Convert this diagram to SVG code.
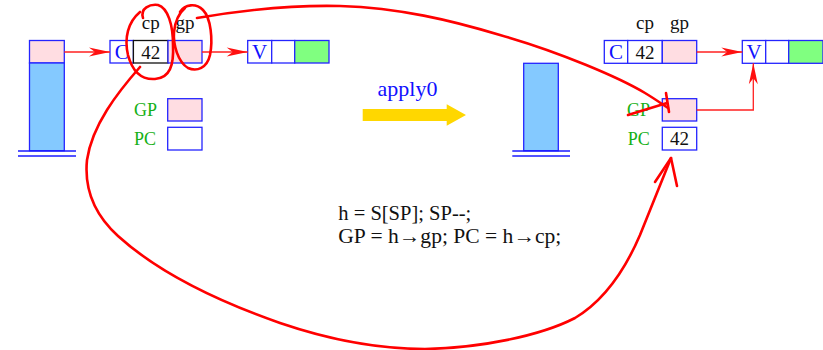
<svg xmlns="http://www.w3.org/2000/svg" width="823" height="350" viewBox="0 0 823 350">
<style>
.box{stroke:#2424ff;stroke-width:1.3}
.pink{fill:#ffdde2}
.white{fill:#ffffff}
.green{fill:#80ff80}
.sky{fill:#84c9ff}
.base{stroke:#1a1aff;stroke-width:1.3}
.lbl{font-family:"Liberation Serif","DejaVu Serif",serif;font-size:19px;fill:#111;text-anchor:middle}
.blu{font-family:"Liberation Serif","DejaVu Serif",serif;font-size:21px;fill:#1010ff;text-anchor:middle}
.grn{font-family:"Liberation Serif","DejaVu Serif",serif;font-size:18px;fill:#16b016}
.code{font-family:"Liberation Serif","DejaVu Serif",serif;font-size:20px;fill:#111}
.conn{stroke:#ff2020;stroke-width:1.3;fill:none}
.hand{stroke:#ff0000;stroke-width:2.6;fill:none;stroke-linecap:round;stroke-linejoin:round}
</style>
<defs>
<marker id="ah" markerUnits="userSpaceOnUse" markerWidth="24" markerHeight="12" viewBox="-22 -6 24 12" refX="0" refY="0" orient="auto">
<path d="M0,0 L-21,-4.5 L-15,0 L-21,4.5 Z" fill="#ff1010"/>
</marker>
</defs>

<g id="left-stack">
<rect class="box pink" x="29.5" y="40.5" width="34.8" height="22.5"/>
<rect class="box sky" x="29.5" y="63" width="34.8" height="87.7"/>
<line class="base" x1="18" y1="151" x2="76" y2="151"/>
<line class="base" x1="18" y1="156" x2="76" y2="156"/>
</g>

<g id="left-closure">
<text class="lbl" x="150.7" y="29">cp</text>
<text class="lbl" x="185" y="29">gp</text>
<rect class="box white" x="110" y="40.5" width="23.4" height="22.5"/>
<rect x="133.4" y="40.5" width="34.6" height="22.5" fill="#fff" stroke="#111" stroke-width="1.3"/>
<rect class="box pink" x="168" y="40.5" width="34" height="22.5"/>
<text class="blu" x="121.7" y="59">C</text>
<text class="lbl" x="150.7" y="59">42</text>
</g>

<g id="left-vector">
<rect class="box white" x="247.7" y="40.5" width="24" height="22.5"/>
<rect class="box white" x="271.7" y="40.5" width="23" height="22.5"/>
<rect class="box green" x="294.7" y="40.5" width="34.3" height="22.5"/>
<text class="blu" x="259.7" y="59">V</text>
</g>

<g id="left-registers">
<text class="grn" x="134" y="115.5">GP</text>
<rect class="box pink" x="167.7" y="98.7" width="34.3" height="22.3"/>
<text class="grn" x="134" y="145">PC</text>
<rect class="box white" x="167.7" y="127.3" width="34.3" height="22.7"/>
</g>

<g id="apply0">
<text x="407.5" y="96" font-family="Liberation Serif, DejaVu Serif, serif" font-size="22" fill="#1010ff" text-anchor="middle">apply0</text>
<polygon points="362.7,109 446.7,109 446.7,104.3 466,115 446.7,125.7 446.7,121 362.7,121" fill="#ffd700"/>
</g>

<g id="right-stack">
<rect class="box sky" x="523.7" y="63.3" width="34.6" height="87.4"/>
<line class="base" x1="512.3" y1="151" x2="570" y2="151"/>
<line class="base" x1="512.3" y1="156" x2="570" y2="156"/>
</g>

<g id="right-closure">
<text class="lbl" x="645" y="29">cp</text>
<text class="lbl" x="679.5" y="29">gp</text>
<rect class="box white" x="604.3" y="40.5" width="23.4" height="22.8"/>
<rect class="box white" x="627.7" y="40.5" width="34.6" height="22.8"/>
<rect class="box pink" x="662.3" y="40.5" width="34.4" height="22.8"/>
<text class="blu" x="616" y="59">C</text>
<text class="lbl" x="645" y="59">42</text>
</g>

<g id="right-vector">
<rect class="box white" x="742.3" y="40.5" width="23.4" height="22.8"/>
<rect class="box white" x="765.7" y="40.5" width="23" height="22.8"/>
<rect class="box green" x="788.7" y="40.5" width="34.3" height="22.8"/>
<text class="blu" x="754" y="59">V</text>
</g>

<g id="right-registers">
<text class="grn" x="627" y="115.5">GP</text>
<rect class="box pink" x="662.3" y="98.7" width="34.4" height="22.3"/>
<text class="grn" x="627.7" y="145">PC</text>
<rect class="box white" x="662.3" y="127.3" width="34.4" height="22.7"/>
<text class="lbl" x="679.5" y="145">42</text>
</g>

<g id="code">
<text class="code" x="338.3" y="220" textLength="133" lengthAdjust="spacingAndGlyphs">h = S[SP]; SP--;</text>
<text class="code" x="338.3" y="243" textLength="223" lengthAdjust="spacingAndGlyphs">GP = h→gp; PC = h→cp;</text>
</g>

<g id="connectors">
<line class="conn" x1="64.3" y1="52" x2="110" y2="52" marker-end="url(#ah)"/>
<line class="conn" x1="202" y1="52" x2="247.7" y2="52" marker-end="url(#ah)"/>
<line class="conn" x1="696.7" y1="52" x2="742.3" y2="52" marker-end="url(#ah)"/>
<polyline class="conn" points="696.7,110 753.3,110 753.3,63.3" marker-end="url(#ah)"/>
</g>

<g id="annotations">
<path class="hand" d="M143,18 C140,8 150,4 158,5 C168,8 173,25 173,45 C174,65 170,78 155,79 C140,80 132,70 128,55 C124,38 128,22 140,12"/>
<path class="hand" d="M140,67 C118,92 92,125 87,160 C84,190 95,215 118,236 C150,265 200,295 280,323 C330,340 380,349 425,349 C480,348 540,336 575,318 C605,300 625,270 640,235 C650,210 660,185 671,158"/>
<path class="hand" d="M655,182 L671,158 L677,186"/>
<path class="hand" d="M180,12 C185,4 196,3 203,10 C211,18 213,40 210,55 C207,68 197,72 188,68 C178,62 173,45 174,32 C175,22 178,14 185,8"/>
<path class="hand" d="M197,18 C250,9 300,5 340,6 C400,8 450,20 500,35 C560,52 620,78 645,93 C655,99 662,104 668,108"/>
<path class="hand" d="M666,93 L669,112 M628,115 L667,103"/>
</g>
</svg>
